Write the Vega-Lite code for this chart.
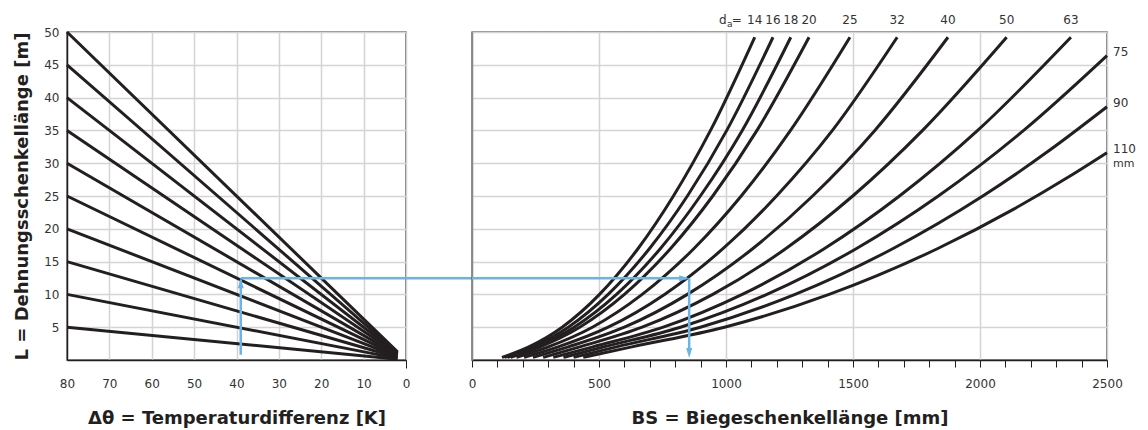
{
  "$schema": "https://vega.github.io/schema/vega-lite/v6.json",
  "padding": {"left": 13, "top": 13, "right": 5, "bottom": 5},
  "bounds": "flush",
  "spacing": 66,
  "background": "white",
  "config": {
    "font": "DejaVu Sans",
    "view": {"stroke": "#231f20", "strokeWidth": 1.4},
    "scale": {"nice": false},
    "axis": {
      "labelFont": "DejaVu Sans", "labelFontSize": 12, "labelColor": "#333333",
      "titleFont": "DejaVu Sans", "titleFontSize": 18, "titleFontWeight": "bold", "titleColor": "#231f20",
      "gridColor": "#d4d4d4", "gridWidth": 1.5,
      "domainColor": "#231f20", "domainWidth": 1.4,
      "tickColor": "#231f20", "labelFlush": false, "labelOverlap": false, "format": "d", "tickCount": 100
    }
  },
  "datasets": {
    "leftlines": [
      {"L0": 5, "dT": 80, "L": 5}, {"L0": 5, "dT": 2, "L": 0.125},
      {"L0": 10, "dT": 80, "L": 10}, {"L0": 10, "dT": 2, "L": 0.25},
      {"L0": 15, "dT": 80, "L": 15}, {"L0": 15, "dT": 2, "L": 0.375},
      {"L0": 20, "dT": 80, "L": 20}, {"L0": 20, "dT": 2, "L": 0.5},
      {"L0": 25, "dT": 80, "L": 25}, {"L0": 25, "dT": 2, "L": 0.625},
      {"L0": 30, "dT": 80, "L": 30}, {"L0": 30, "dT": 2, "L": 0.75},
      {"L0": 35, "dT": 80, "L": 35}, {"L0": 35, "dT": 2, "L": 0.875},
      {"L0": 40, "dT": 80, "L": 40}, {"L0": 40, "dT": 2, "L": 1.0},
      {"L0": 45, "dT": 80, "L": 45}, {"L0": 45, "dT": 2, "L": 1.125},
      {"L0": 50, "dT": 80, "L": 50}, {"L0": 50, "dT": 2, "L": 1.25}
    ],
    "curves": [
      {"d": 14, "BS": 118, "L": 0.4}, {"d": 14, "BS": 224, "L": 2}, {"d": 14, "BS": 355, "L": 5}, {"d": 14, "BS": 502, "L": 10}, {"d": 14, "BS": 654, "L": 17}, {"d": 14, "BS": 793, "L": 25}, {"d": 14, "BS": 939, "L": 35}, {"d": 14, "BS": 1113, "L": 49.2},
      {"d": 16, "BS": 128, "L": 0.4}, {"d": 16, "BS": 240, "L": 2}, {"d": 16, "BS": 379, "L": 5}, {"d": 16, "BS": 536, "L": 10}, {"d": 16, "BS": 699, "L": 17}, {"d": 16, "BS": 848, "L": 25}, {"d": 16, "BS": 1003, "L": 35}, {"d": 16, "BS": 1185, "L": 49.2},
      {"d": 18, "BS": 140, "L": 0.4}, {"d": 18, "BS": 254, "L": 2}, {"d": 18, "BS": 402, "L": 5}, {"d": 18, "BS": 569, "L": 10}, {"d": 18, "BS": 742, "L": 17}, {"d": 18, "BS": 899, "L": 25}, {"d": 18, "BS": 1064, "L": 35}, {"d": 18, "BS": 1255, "L": 49.2},
      {"d": 20, "BS": 152, "L": 0.4}, {"d": 20, "BS": 268, "L": 2}, {"d": 20, "BS": 424, "L": 5}, {"d": 20, "BS": 600, "L": 10}, {"d": 20, "BS": 782, "L": 17}, {"d": 20, "BS": 948, "L": 25}, {"d": 20, "BS": 1122, "L": 35}, {"d": 20, "BS": 1327, "L": 49.2},
      {"d": 25, "BS": 175, "L": 0.4}, {"d": 25, "BS": 300, "L": 2}, {"d": 25, "BS": 474, "L": 5}, {"d": 25, "BS": 670, "L": 10}, {"d": 25, "BS": 874, "L": 17}, {"d": 25, "BS": 1060, "L": 25}, {"d": 25, "BS": 1254, "L": 35}, {"d": 25, "BS": 1488, "L": 49.2},
      {"d": 32, "BS": 205, "L": 0.4}, {"d": 32, "BS": 339, "L": 2}, {"d": 32, "BS": 536, "L": 5}, {"d": 32, "BS": 758, "L": 10}, {"d": 32, "BS": 989, "L": 17}, {"d": 32, "BS": 1199, "L": 25}, {"d": 32, "BS": 1419, "L": 35}, {"d": 32, "BS": 1674, "L": 49.2},
      {"d": 40, "BS": 240, "L": 0.4}, {"d": 40, "BS": 379, "L": 2}, {"d": 40, "BS": 600, "L": 5}, {"d": 40, "BS": 848, "L": 10}, {"d": 40, "BS": 1106, "L": 17}, {"d": 40, "BS": 1341, "L": 25}, {"d": 40, "BS": 1586, "L": 35}, {"d": 40, "BS": 1874, "L": 49.2},
      {"d": 50, "BS": 280, "L": 0.4}, {"d": 50, "BS": 424, "L": 2}, {"d": 50, "BS": 670, "L": 5}, {"d": 50, "BS": 948, "L": 10}, {"d": 50, "BS": 1236, "L": 17}, {"d": 50, "BS": 1499, "L": 25}, {"d": 50, "BS": 1774, "L": 35}, {"d": 50, "BS": 2105, "L": 49.2},
      {"d": 63, "BS": 320, "L": 0.4}, {"d": 63, "BS": 476, "L": 2}, {"d": 63, "BS": 753, "L": 5}, {"d": 63, "BS": 1064, "L": 10}, {"d": 63, "BS": 1388, "L": 17}, {"d": 63, "BS": 1683, "L": 25}, {"d": 63, "BS": 1991, "L": 35}, {"d": 63, "BS": 2358, "L": 49.2},
      {"d": 75, "BS": 360, "L": 0.4}, {"d": 75, "BS": 519, "L": 2}, {"d": 75, "BS": 821, "L": 5}, {"d": 75, "BS": 1161, "L": 10}, {"d": 75, "BS": 1514, "L": 17}, {"d": 75, "BS": 1836, "L": 25}, {"d": 75, "BS": 2172, "L": 35}, {"d": 75, "BS": 2500, "L": 46.4},
      {"d": 90, "BS": 400, "L": 0.4}, {"d": 90, "BS": 569, "L": 2}, {"d": 90, "BS": 899, "L": 5}, {"d": 90, "BS": 1272, "L": 10}, {"d": 90, "BS": 1658, "L": 17}, {"d": 90, "BS": 2011, "L": 25}, {"d": 90, "BS": 2275, "L": 32}, {"d": 90, "BS": 2500, "L": 38.6},
      {"d": 110, "BS": 438, "L": 0.4}, {"d": 110, "BS": 629, "L": 2}, {"d": 110, "BS": 994, "L": 5}, {"d": 110, "BS": 1406, "L": 10}, {"d": 110, "BS": 1834, "L": 17}, {"d": 110, "BS": 2133, "L": 23}, {"d": 110, "BS": 2353, "L": 28}, {"d": 110, "BS": 2500, "L": 31.6}
    ],
    "toplabels": [
      {"label": "14", "BS": 1113, "L": 49.2}, {"label": "16", "BS": 1185, "L": 49.2}, {"label": "18", "BS": 1255, "L": 49.2},
      {"label": "20", "BS": 1327, "L": 49.2}, {"label": "25", "BS": 1488, "L": 49.2}, {"label": "32", "BS": 1674, "L": 49.2},
      {"label": "40", "BS": 1874, "L": 49.2}, {"label": "50", "BS": 2105, "L": 49.2}, {"label": "63", "BS": 2358, "L": 49.2}
    ],
    "sidelabels": [
      {"label": "75", "BS": 2500, "L": 46.4}, {"label": "90", "BS": 2500, "L": 38.6}, {"label": "110", "BS": 2500, "L": 31.6}
    ]
  },
  "hconcat": [
    {
      "width": 339,
      "height": 328,
      "layer": [
        {
          "data": {"name": "leftlines"},
          "mark": {"type": "line", "color": "#231f20", "strokeWidth": 3},
          "encoding": {
            "x": {"field": "dT", "type": "quantitative", "scale": {"domain": [0, 80], "reverse": true, "nice": false},
              "axis": {"values": [0, 10, 20, 30, 40, 50, 60, 70, 80], "title": "Δθ = Temperaturdifferenz [K]", "tickSize": 8, "labelPadding": 10, "titlePadding": 20,
                "tickOpacity": {"condition": {"test": "datum.value === 0", "value": 1}, "value": 0}}},
            "y": {"field": "L", "type": "quantitative", "scale": {"domain": [0, 50], "nice": false},
              "axis": {"values": [5, 10, 15, 20, 25, 30, 35, 40, 45, 50], "title": "L = Dehnungsschenkellänge [m]", "ticks": false, "labelPadding": 8, "titlePadding": 12}},
            "detail": {"field": "L0", "type": "nominal"}
          }
        },
        {
          "data": {"values": [{"dT": 39, "L": 0.8, "L2": 12.2}]},
          "mark": {"type": "rule", "color": "#6cb4e4", "strokeWidth": 2.5},
          "encoding": {"x": {"field": "dT", "type": "quantitative"}, "y": {"field": "L", "type": "quantitative"}, "y2": {"field": "L2"}}
        },
        {
          "data": {"values": [{"dT": 39, "dT2": -15.8, "L": 12.45}]},
          "mark": {"type": "rule", "color": "#6cb4e4", "strokeWidth": 2.5},
          "encoding": {"x": {"field": "dT", "type": "quantitative"}, "x2": {"field": "dT2"}, "y": {"field": "L", "type": "quantitative"}}
        },
        {
          "data": {"values": [{"dT": 39, "L": 12.45}]},
          "mark": {"type": "point", "shape": "M0,0L0.6,2L-0.6,2Z", "filled": true, "size": 100, "color": "#6cb4e4", "opacity": 1},
          "encoding": {"x": {"field": "dT", "type": "quantitative"}, "y": {"field": "L", "type": "quantitative"}}
        }
      ]
    },
    {
      "width": 635,
      "height": 328,
      "layer": [
        {
          "data": {"name": "curves"},
          "mark": {"type": "line", "color": "#231f20", "strokeWidth": 3, "interpolate": "monotone"},
          "encoding": {
            "x": {"field": "BS", "type": "quantitative", "scale": {"domain": [0, 2500], "nice": false},
              "axis": {"values": [0, 100, 200, 300, 400, 500, 600, 700, 800, 900, 1000, 1100, 1200, 1300, 1400, 1500, 1600, 1700, 1800, 1900, 2000, 2100, 2200, 2300, 2400, 2500],
                "labelExpr": "datum.value % 500 === 0 ? datum.label : ''",
                "gridOpacity": {"condition": {"test": "datum.value % 500 === 0", "value": 1}, "value": 0},
                "title": "BS = Biegeschenkellänge [mm]", "tickSize": 7, "labelPadding": 11, "titlePadding": 20}},
            "y": {"field": "L", "type": "quantitative", "scale": {"domain": [0, 50], "nice": false},
              "axis": {"values": [5, 10, 15, 20, 25, 30, 35, 40, 45, 50], "labels": false, "ticks": false, "title": null, "domainColor": "#888888"}},
            "detail": {"field": "d", "type": "nominal"}
          }
        },
        {
          "data": {"name": "toplabels"},
          "mark": {"type": "text", "fontSize": 12, "color": "#333333", "dy": -17, "baseline": "middle", "align": "center"},
          "encoding": {"x": {"field": "BS", "type": "quantitative"}, "y": {"field": "L", "type": "quantitative"}, "text": {"field": "label"}}
        },
        {
          "data": {"values": [{"BS": 1113, "L": 49.2}]},
          "layer": [
            {"mark": {"type": "text", "text": "d", "fontSize": 12, "color": "#333333", "dy": -17, "dx": -28, "baseline": "middle", "align": "right"},
              "encoding": {"x": {"field": "BS", "type": "quantitative"}, "y": {"field": "L", "type": "quantitative"}}},
            {"mark": {"type": "text", "text": "a", "fontSize": 9, "color": "#333333", "dy": -13, "dx": -25, "baseline": "middle", "align": "center"},
              "encoding": {"x": {"field": "BS", "type": "quantitative"}, "y": {"field": "L", "type": "quantitative"}}},
            {"mark": {"type": "text", "text": "=", "fontSize": 12, "color": "#333333", "dy": -17, "dx": -18, "baseline": "middle", "align": "center"},
              "encoding": {"x": {"field": "BS", "type": "quantitative"}, "y": {"field": "L", "type": "quantitative"}}}
          ]
        },
        {
          "data": {"name": "sidelabels"},
          "mark": {"type": "text", "fontSize": 12, "color": "#333333", "dx": 6, "dy": -4, "baseline": "middle", "align": "left"},
          "encoding": {"x": {"field": "BS", "type": "quantitative"}, "y": {"field": "L", "type": "quantitative"}, "text": {"field": "label"}}
        },
        {
          "data": {"values": [{"BS": 2500, "L": 31.6}]},
          "mark": {"type": "text", "text": "mm", "fontSize": 11, "color": "#333333", "dx": 6, "dy": 11, "baseline": "middle", "align": "left"},
          "encoding": {"x": {"field": "BS", "type": "quantitative"}, "y": {"field": "L", "type": "quantitative"}}
        },
        {
          "data": {"values": [{"BS": 0, "BS2": 845, "L": 12.45}]},
          "mark": {"type": "rule", "color": "#6cb4e4", "strokeWidth": 2.5},
          "encoding": {"x": {"field": "BS", "type": "quantitative"}, "x2": {"field": "BS2"}, "y": {"field": "L", "type": "quantitative"}}
        },
        {
          "data": {"values": [{"BS": 855, "L": 12.45, "L2": 1.0}]},
          "mark": {"type": "rule", "color": "#6cb4e4", "strokeWidth": 2.5},
          "encoding": {"x": {"field": "BS", "type": "quantitative"}, "y": {"field": "L", "type": "quantitative"}, "y2": {"field": "L2"}}
        },
        {
          "data": {"values": [{"BS": 855, "L": 12.45}]},
          "mark": {"type": "point", "shape": "M0,0L-2,-0.6L-2,0.6Z", "filled": true, "size": 100, "color": "#6cb4e4", "opacity": 1},
          "encoding": {"x": {"field": "BS", "type": "quantitative"}, "y": {"field": "L", "type": "quantitative"}}
        },
        {
          "data": {"values": [{"BS": 855, "L": 0.3}]},
          "mark": {"type": "point", "shape": "M0,0L0.6,-2L-0.6,-2Z", "filled": true, "size": 100, "color": "#6cb4e4", "opacity": 1},
          "encoding": {"x": {"field": "BS", "type": "quantitative"}, "y": {"field": "L", "type": "quantitative"}}
        }
      ]
    }
  ]
}
